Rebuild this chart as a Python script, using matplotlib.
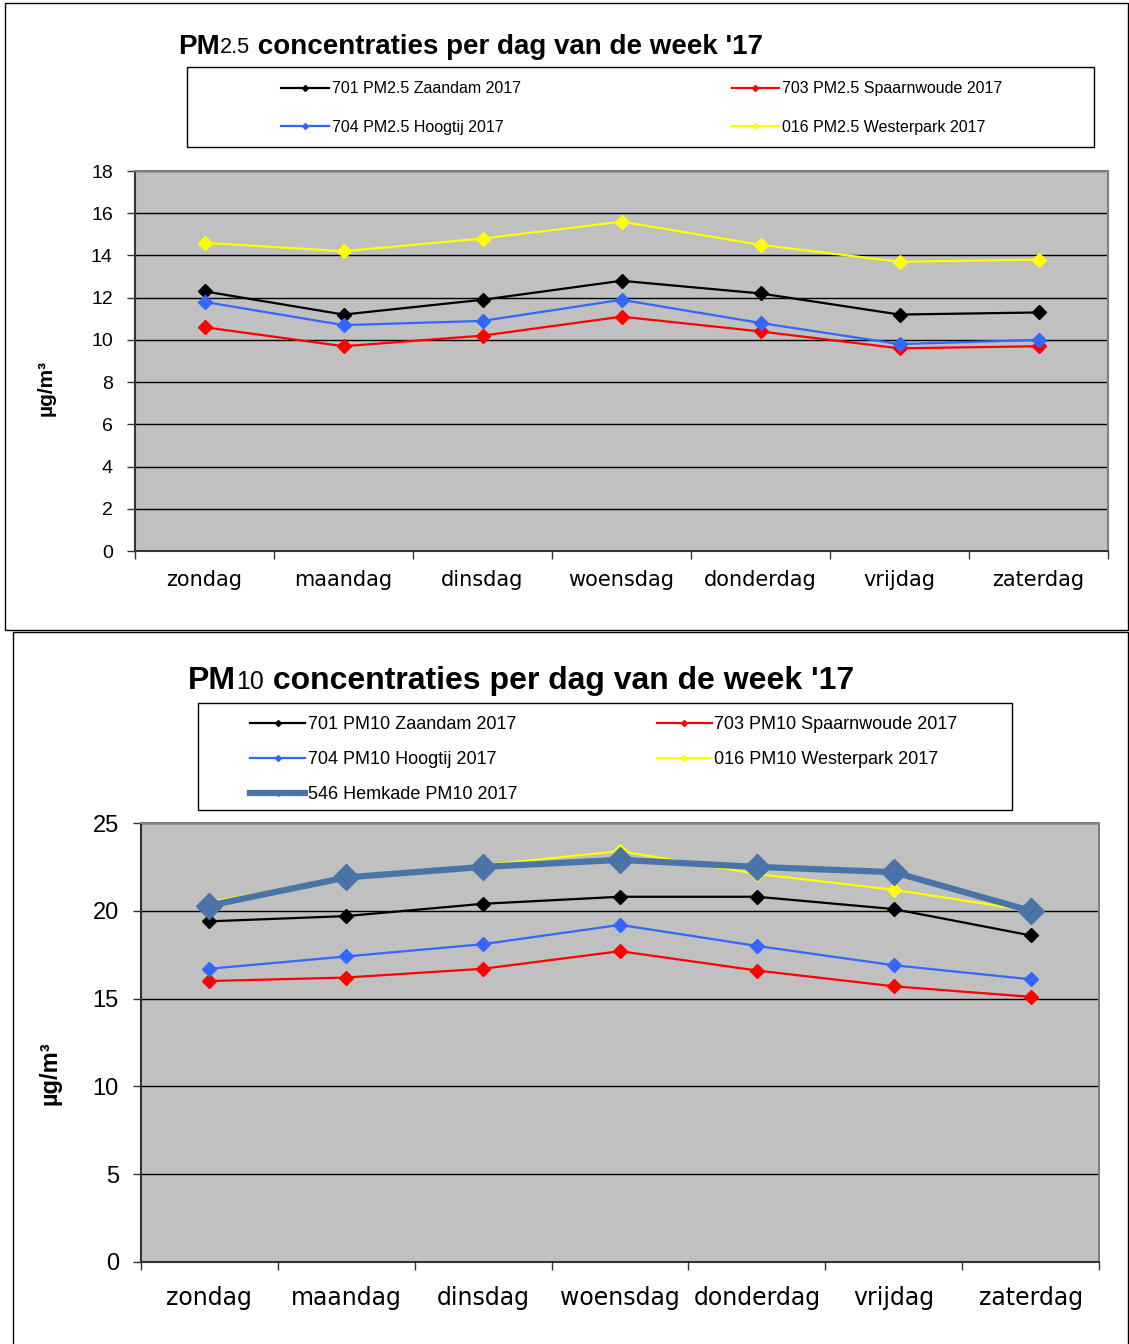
import matplotlib
matplotlib.use("Agg")
import matplotlib.pyplot as plt
from matplotlib.lines import Line2D
from matplotlib.patches import Rectangle

# weekday labels (Dutch)
days = ["zondag", "maandag", "dinsdag", "woensdag", "donderdag", "vrijdag", "zaterdag"]

# PM2.5 daily means per station, 2017 (µg/m³)
pm25_zaandam = [12.3, 11.2, 11.9, 12.8, 12.2, 11.2, 11.3]
pm25_spaarnwoude = [10.6, 9.7, 10.2, 11.1, 10.4, 9.6, 9.7]
pm25_hoogtij = [11.8, 10.7, 10.9, 11.9, 10.8, 9.8, 10.0]
pm25_westerpark = [14.6, 14.2, 14.8, 15.6, 14.5, 13.7, 13.8]

# PM10 daily means per station, 2017 (µg/m³)
pm10_zaandam = [19.4, 19.7, 20.4, 20.8, 20.8, 20.1, 18.6]
pm10_spaarnwoude = [16.0, 16.2, 16.7, 17.7, 16.6, 15.7, 15.1]
pm10_hoogtij = [16.7, 17.4, 18.1, 19.2, 18.0, 16.9, 16.1]
pm10_westerpark = [20.5, 21.9, 22.6, 23.4, 22.1, 21.2, 20.0]
pm10_hemkade = [20.3, 21.9, 22.5, 22.9, 22.5, 22.2, 20.0]

W, H = 1129, 1344
fig = plt.figure(figsize=(W / 100, H / 100), dpi=100)

ARIAL = ["Liberation Sans", "DejaVu Sans"]


def fx(px):
    return px / W


def fy(py):
    return 1 - py / H


def axes_box(left, top, right, bottom):
    return [fx(left), fy(bottom), fx(right) - fx(left), fy(top) - fy(bottom)]


def title(ax, x, y, pm, sub, rest, size):
    # "PM" + smaller particle size + rest, chained on one baseline
    t = fig.text(fx(x), fy(y), pm, fontsize=size, fontweight="bold",
                 family=ARIAL, va="baseline", ha="left")
    t2 = ax.annotate(sub, xy=(1, 0), xycoords=t, xytext=(0, 1.2),
                     textcoords="offset points", fontsize=size * 0.78,
                     family=ARIAL, va="bottom", ha="left", annotation_clip=False)
    ax.annotate(rest, xy=(1, 0), xycoords=t2, xytext=(0, -1.2),
                textcoords="offset points", fontsize=size, fontweight="bold",
                family=ARIAL, va="bottom", ha="left", annotation_clip=False)


def style_axes(ax, ymax, ystep, xsize, ysize, xpad, ypad):
    ax.set_facecolor("#C0C0C0")
    ax.set_xlim(-0.5, len(days) - 0.5)
    ax.set_ylim(0, ymax)
    ax.set_yticks(range(0, ymax + 1, ystep))
    ax.set_xticks(range(len(days)))
    ax.set_xticklabels(days, fontsize=xsize, family="DejaVu Sans")
    ax.set_xticks([i - 0.5 for i in range(len(days) + 1)], minor=True)
    ax.tick_params(axis="x", which="major", length=0, pad=xpad)
    ax.tick_params(axis="x", which="minor", length=6, width=1, direction="out",
                   color="#333333")
    ax.tick_params(axis="y", length=6, width=1, direction="out", pad=ypad,
                   labelsize=ysize, color="#333333")
    for lab in ax.get_yticklabels():
        lab.set_family(ARIAL)
    ax.grid(axis="y", color="black", lw=1)
    ax.set_axisbelow(True)
    for side in ("left", "bottom"):
        ax.spines[side].set_color("#333333")
        ax.spines[side].set_linewidth(1.5)
    for side in ("top", "right"):
        ax.spines[side].set_color("#808080")
        ax.spines[side].set_linewidth(1.5)


def legend_frame(left, top, right, bottom):
    fig.add_artist(Rectangle((fx(left), fy(bottom)), fx(right) - fx(left),
                             fy(top) - fy(bottom), transform=fig.transFigure,
                             fill=False, edgecolor="black", lw=1))


# panel borders
fig.add_artist(Rectangle((fx(5), fy(630)), fx(1128) - fx(5), fy(3) - fy(630),
                         transform=fig.transFigure, fill=False, edgecolor="black", lw=1))
fig.add_artist(Line2D([fx(13), fx(13), fx(1128), fx(1128)],
                      [fy(1344), fy(632), fy(632), fy(1344)],
                      transform=fig.transFigure, color="black", lw=1))

x = list(range(len(days)))
thin = dict(lw=1.6, marker="D", markersize=7)

# ---- PM2.5 ----
ax1 = fig.add_axes(axes_box(135, 171, 1108, 551))
h_z = ax1.plot(x, pm25_zaandam, color="black", **thin)[0]
h_s = ax1.plot(x, pm25_spaarnwoude, color="#FF0000", **thin)[0]
h_h = ax1.plot(x, pm25_hoogtij, color="#3366FF", **thin)[0]
h_w = ax1.plot(x, pm25_westerpark, color="#FFFF00", **thin)[0]
style_axes(ax1, 18, 2, 15, 14, 14, 10)
ax1.set_ylabel("µg/m³", fontsize=15, fontweight="bold", family=ARIAL)
ax1.yaxis.set_label_coords(-0.082, 0.43)
title(ax1, 178, 54, "PM", "2.5", " concentraties per dag van de week '17", 20)

lg_handles = [Line2D([], [], color=h.get_color(), lw=1.6, marker="D", markersize=3)
              for h in (h_z, h_h, h_s, h_w)]
fig.legend(lg_handles,
           ["701 PM2.5 Zaandam 2017", "704 PM2.5 Hoogtij 2017",
            "703 PM2.5 Spaarnwoude 2017", "016 PM2.5 Westerpark 2017"],
           ncol=2, loc="upper left", bbox_to_anchor=(fx(267), fy(67)),
           frameon=False, handlelength=3.0, handletextpad=0.15,
           columnspacing=13.2, labelspacing=1.45,
           prop={"family": ARIAL, "size": 11.5})
legend_frame(187, 67, 1094, 147)

# ---- PM10 ----
ax2 = fig.add_axes(axes_box(141, 823, 1099, 1262))
g_z = ax2.plot(x, pm10_zaandam, color="black", **thin)[0]
g_s = ax2.plot(x, pm10_spaarnwoude, color="#FF0000", **thin)[0]
g_h = ax2.plot(x, pm10_hoogtij, color="#3366FF", **thin)[0]
g_w = ax2.plot(x, pm10_westerpark, color="#FFFF00", **thin)[0]
g_k = ax2.plot(x, pm10_hemkade, color="#4A74A8", lw=4.5, marker="D", markersize=13.5)[0]
style_axes(ax2, 25, 5, 17, 17, 17, 10)
ax2.set_ylabel("µg/m³", fontsize=17, fontweight="bold", family=ARIAL)
ax2.yaxis.set_label_coords(-0.0825, 0.43)
title(ax2, 188, 689, "PM", "10", " concentraties per dag van de week '17", 23)

lg2_handles = [Line2D([], [], color=h.get_color(), lw=lw, marker="D", markersize=3)
               for h, lw in ((g_z, 1.6), (g_h, 1.6), (g_k, 4.5), (g_s, 1.6), (g_w, 1.6))]
fig.legend(lg2_handles,
           ["701 PM10 Zaandam 2017", "704 PM10 Hoogtij 2017", "546 Hemkade PM10 2017",
            "703 PM10 Spaarnwoude 2017", "016 PM10 Westerpark 2017"],
           ncol=2, loc="upper left", bbox_to_anchor=(fx(234), fy(700)),
           frameon=False, handlelength=3.05, handletextpad=0.15,
           columnspacing=7.7, labelspacing=1.0,
           prop={"family": ARIAL, "size": 13})
legend_frame(198, 703, 1012, 810)

fig.savefig("out.png", dpi=100)
